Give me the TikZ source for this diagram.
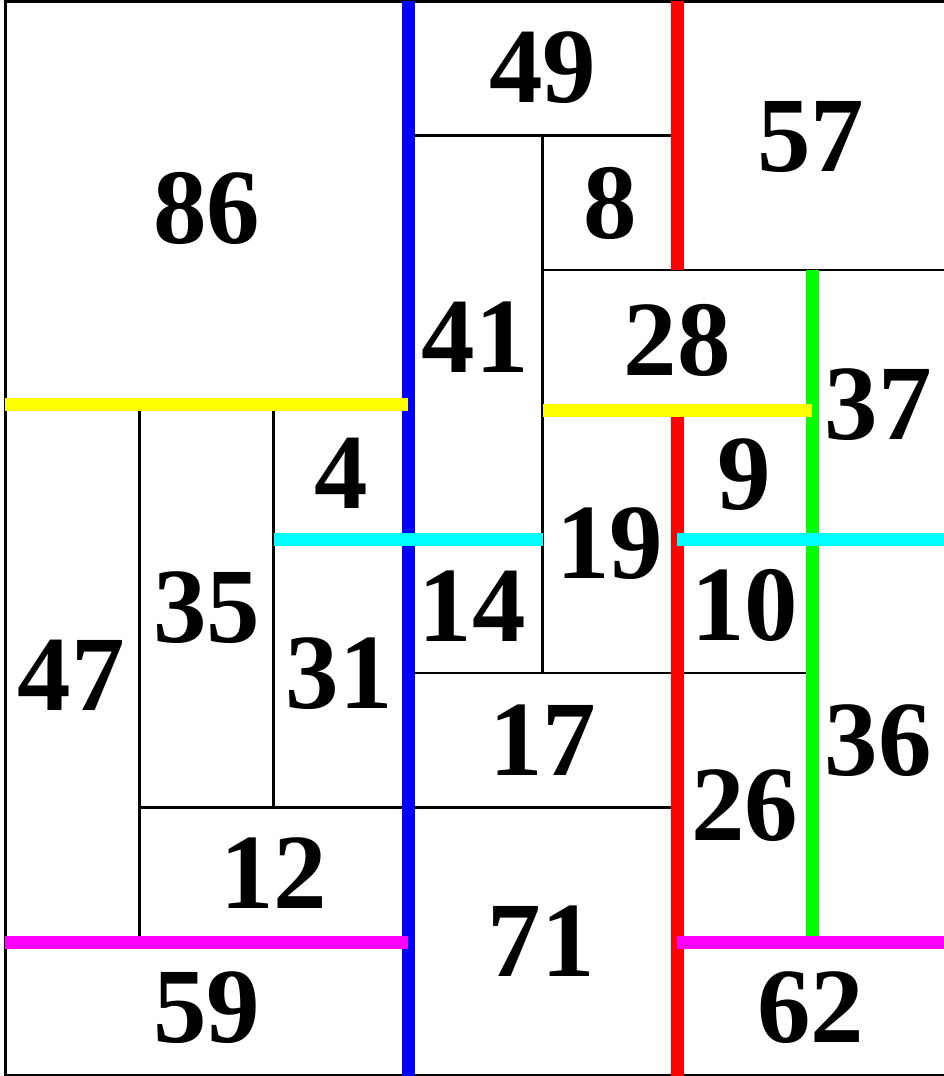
\documentclass[tikz,border=0pt]{standalone}
\usepackage{fontspec}
\setmainfont{Liberation Serif}
\definecolor{cBlue}{RGB}{0,0,255}
\definecolor{cRed}{RGB}{255,0,0}
\definecolor{cGreen}{RGB}{0,255,0}
\definecolor{cYellow}{RGB}{255,255,0}
\definecolor{cCyan}{RGB}{0,255,255}
\definecolor{cMagenta}{RGB}{255,0,255}
\begin{document}
\begin{tikzpicture}[x=1pt,y=-1pt,
  thinline/.style={draw=black,line width=2.7pt},
  cutline/.style={line width=13pt},
  lbl/.style={inner sep=0pt,font=\fontsize{107}{107}\selectfont\bfseries}]
\useasboundingbox (0,0) rectangle (944,1076);
% frame
\draw[line width=3pt] (5,1) rectangle (946,1075);
% thin cell borders
\draw[thinline] (408,135.5) -- (677,135.5);
\draw[thinline] (542.5,135.5) -- (542.5,673);
\draw[thinline] (542.5,270) -- (946,270);
\draw[thinline] (408,673) -- (812,673);
\draw[thinline] (139.5,404.5) -- (139.5,942);
\draw[thinline] (273.5,404.5) -- (273.5,807.5);
\draw[thinline] (139.5,807.5) -- (677,807.5);
% cut lines
\draw[cutline,cBlue] (408,1) -- (408,1076);
\draw[cutline,cRed] (677,1) -- (677,270);
\draw[cutline,cGreen] (812,270) -- (812,936);
\draw[cutline,cYellow] (5,404.5) -- (408,404.5);
\draw[cutline,cYellow] (542.5,410) -- (812,410);
\draw[cutline,cRed] (677,416.5) -- (677,1076);
\draw[cutline,cCyan] (273.5,539) -- (542.5,539);
\draw[cutline,cCyan] (677,539) -- (946,539);
\draw[cutline,cMagenta] (5,942.5) -- (408,942.5);
\draw[cutline,cMagenta] (677,942.5) -- (946,942.5);
% labels
\node[lbl] (n86) at (206.5,208) {86};
\node[lbl] (n49) at (542.5,68) {49};
\node[lbl] (n57) at (810.5,137) {57};
\node[lbl] (n8) at (609.75,203) {8};
\node[lbl] (n41) at (475.25,337.25) {41};
\node[lbl] (n28) at (677.25,340) {28};
\node[lbl] (n37) at (878,404.5) {37};
\node[lbl] (n4) at (340.75,473) {4};
\node[lbl] (n9) at (744.5,474.5) {9};
\node[lbl] (n19) at (609.75,544) {19};
\node[lbl] (n35) at (206.5,608) {35};
\node[lbl] (n14) at (472,606) {14};
\node[lbl] (n10) at (744.5,605) {10};
\node[lbl] (n47) at (71,675) {47};
\node[lbl] (n31) at (339,673.25) {31};
\node[lbl] (n36) at (878,740.5) {36};
\node[lbl] (n17) at (542.5,740) {17};
\node[lbl] (n26) at (744.5,806) {26};
\node[lbl] (n12) at (273.75,873.5) {12};
\node[lbl] (n71) at (541,941.25) {71};
\node[lbl] (n59) at (206.5,1008) {59};
\node[lbl] (n62) at (810.5,1008) {62};
\end{tikzpicture}
\end{document}
